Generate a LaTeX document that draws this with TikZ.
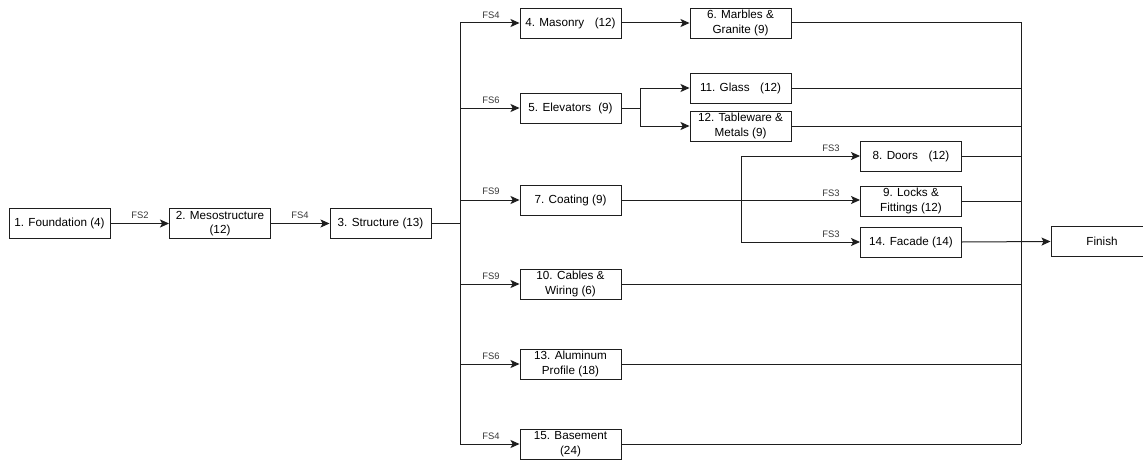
\documentclass[tikz,border=0pt]{standalone}
\usepackage{fontspec}
\setmainfont{Liberation Sans}
\usetikzlibrary{arrows.meta}
\definecolor{edgecol}{RGB}{30,30,30}
\definecolor{fscol}{RGB}{55,55,55}
\begin{document}
\begin{tikzpicture}[x=1pt,y=-1pt,
  task/.style={draw=edgecol,line width=0.95pt,minimum width=101pt,minimum height=30pt,
    inner sep=0pt,align=center,font=\fontsize{11.7}{14.5}\selectfont},
  link/.style={draw=edgecol,line width=1pt},
  arr/.style={link,-{Stealth[length=9pt,width=8pt,inset=2pt]}},
  fs/.style={font=\fontsize{9.4}{10}\selectfont,text=fscol,inner sep=0pt}]
\useasboundingbox (0,0) rectangle (1143,460);
\clip (0,0) rectangle (1143,460);

% first chain
\node[task] (f1) at (59.5,223.5) {1. Foundation (4)};
\node[task] (f2) at (220,223.5) {2. Mesostructure\\(12)};
\node[task] (f3) at (380.5,223.5) {3. Structure (13)};

% parallel activities after the structure
\node[task] (f4) at (570.5,23) {4. Masonry\hspace{0.9em}(12)};
\node[task] (f6) at (740.5,23) {6. Marbles \&\\Granite (9)};
\node[task] (f5) at (570.5,108) {5. Elevators\hspace{0.6em}(9)};
\node[task] (f11) at (740.5,88) {11. Glass\hspace{0.9em}(12)};
\node[task] (f12) at (740.5,126) {12. Tableware \&\\Metals (9)};
\node[task] (f7) at (570.5,200) {7. Coating (9)};
\node[task] (f8) at (911,156) {8. Doors\hspace{0.9em}(12)};
\node[task] (f9) at (911,201) {9. Locks \&\\Fittings (12)};
\node[task] (f14) at (911,242) {14. Facade (14)};
\node[task] (f10) at (570.5,284) {10. Cables \&\\Wiring (6)};
\node[task] (f13) at (570.5,364) {13. Aluminum\\Profile (18)};
\node[task] (f15) at (570.5,444) {15. Basement\\(24)};
\node[task,minimum width=102pt] (fin) at (1102,241.5) {Finish};

% bus lines
\coordinate (lb) at (460,0);
\coordinate (eb) at (640,0);
\coordinate (cb) at (741,0);
\coordinate (rb) at (1021,0);

% dependency labels
\node[fs] (l12) at (140,215.5) {FS2};
\node[fs] (l23) at (300,215.5) {FS4};
\node[fs] (l4) at (491,15) {FS4};
\node[fs] (l5) at (491,100) {FS6};
\node[fs] (l7) at (491,191) {FS9};
\node[fs] (l10) at (491,276) {FS9};
\node[fs] (l13) at (491,356) {FS6};
\node[fs] (l15) at (491,436) {FS4};
\node[fs] (l8) at (831,148) {FS3};
\node[fs] (l9) at (831,193) {FS3};
\node[fs] (l14) at (831,234) {FS3};

% connectors
\draw[arr] (f1) -- (f2);
\draw[arr] (f2) -- (f3);
\draw[link] (f3.east) -- (f3.east -| lb);
\draw[link] (lb |- f4.west) -- (lb |- f15.west);
\draw[arr] (lb |- f4.west) -- (f4.west);
\draw[arr] (lb |- f5.west) -- (f5.west);
\draw[arr] (lb |- f7.west) -- (f7.west);
\draw[arr] (lb |- f10.west) -- (f10.west);
\draw[arr] (lb |- f13.west) -- (f13.west);
\draw[arr] (lb |- f15.west) -- (f15.west);

\draw[arr] (f4) -- (f6);
\draw[arr] (f5.east) -- (f5.east -| eb) |- (f11.west);
\draw[arr] (f5.east -| eb) |- (f12.west);

\draw[arr] (f7.east) -- (f7.east -| f9.west);
\draw[arr] (cb |- f14.west) |- (f8.west);
\draw[arr] (cb |- f8.west) |- (f14.west);

% into the finish
\draw[link] (f6.east) -| (rb |- f15.east);
\draw[link] (f11.east) -- (f11.east -| rb);
\draw[link] (f12.east) -- (f12.east -| rb);
\draw[link] (f8.east) -- (f8.east -| rb);
\draw[link] (f9.east) -- (f9.east -| rb);
\draw[link] (f10.east) -- (f10.east -| rb);
\draw[link] (f13.east) -- (f13.east -| rb);
\draw[link] (f15.east) -- (f15.east -| rb);
\draw[arr] (f14.east) -- (fin.west);
\end{tikzpicture}
\end{document}
